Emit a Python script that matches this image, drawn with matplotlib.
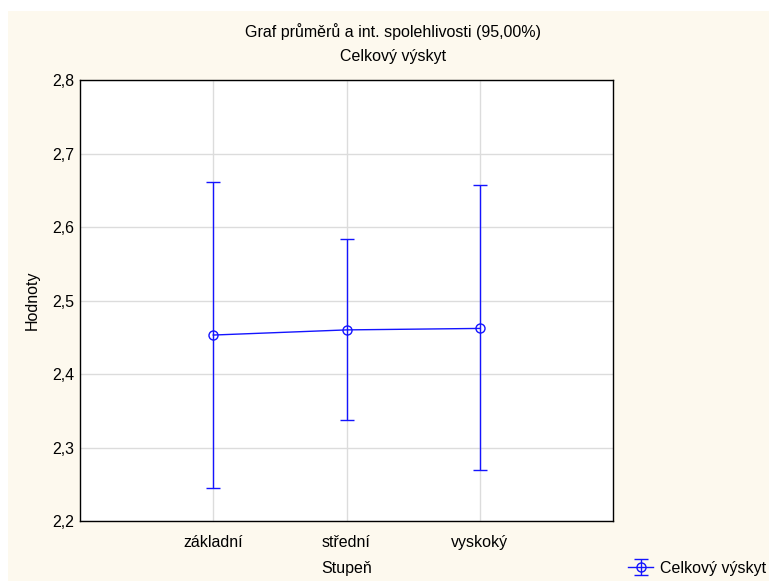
import matplotlib
matplotlib.use('Agg')
import matplotlib.pyplot as plt
from matplotlib.patches import Rectangle
import numpy as np

categories = ["základní", "střední", "vyskoký"]
means = [2.453, 2.460, 2.462]
lower = [2.245, 2.337, 2.269]
upper = [2.661, 2.584, 2.657]
series_name = "Celkový výskyt"

plt.rcParams['font.family'] = ['Liberation Sans', 'DejaVu Sans']
fs = 11.5
plt.rcParams['font.size'] = fs

fig = plt.figure(figsize=(7.69, 5.81), dpi=100)
fig.patch.set_facecolor('white')
# cream panel behind everything, leaving a thin white strip top/left
fig.patches.append(Rectangle((8 / 769, 0), 1, 1 - 11 / 581, transform=fig.transFigure,
                             facecolor='#fdf9ee', edgecolor='none', zorder=-10))

ax = fig.add_axes([80 / 769, 1 - 521 / 581, 533 / 769, 441 / 581])
ax.set_facecolor('white')

x = np.arange(1, len(categories) + 1)
m = np.array(means)
err = [m - np.array(lower), np.array(upper) - m]
blue = '#1414ff'
ax.errorbar(x, m, yerr=err, color=blue, ecolor=blue, lw=1, elinewidth=1,
            capsize=5, capthick=1, marker='o', markersize=6.5,
            markerfacecolor='none', markeredgecolor=blue, markeredgewidth=1,
            label=series_name, zorder=3)

ax.set_xlim(0, len(categories) + 1)
ax.set_ylim(2.2, 2.8)
ax.set_xticks(x)
ax.set_xticklabels(categories)
yt = np.arange(2.2, 2.81, 0.1)
ax.set_yticks(yt)
ax.set_yticklabels([f"{v:.1f}".replace('.', ',') for v in yt])
ax.grid(True, color='#dcdcdc', lw=1)
ax.set_axisbelow(True)
ax.tick_params(axis='x', length=0, pad=10, colors='black', labelsize=fs)
ax.tick_params(axis='y', length=0, pad=4, colors='black', labelsize=fs)
for s in ax.spines.values():
    s.set_color('black')
    s.set_linewidth(1)

ax.set_xlabel("Stupeň", fontsize=fs, labelpad=8)
ax.set_ylabel("Hodnoty", fontsize=fs, labelpad=9)

fig.text(0.511, 1 - 32 / 581, "Graf průměrů a int. spolehlivosti (95,00%)",
         ha='center', va='center', fontsize=fs)
fig.text(0.511, 1 - 56 / 581, "Celkový výskyt", ha='center', va='center', fontsize=fs)

fig.legend(loc='center right', bbox_to_anchor=(1.0, 1 - 568 / 581), frameon=False,
           fontsize=fs, handlelength=1.6, handletextpad=0.4, borderpad=0.1,
           borderaxespad=0.1)

fig.savefig('out.png', dpi=100)
